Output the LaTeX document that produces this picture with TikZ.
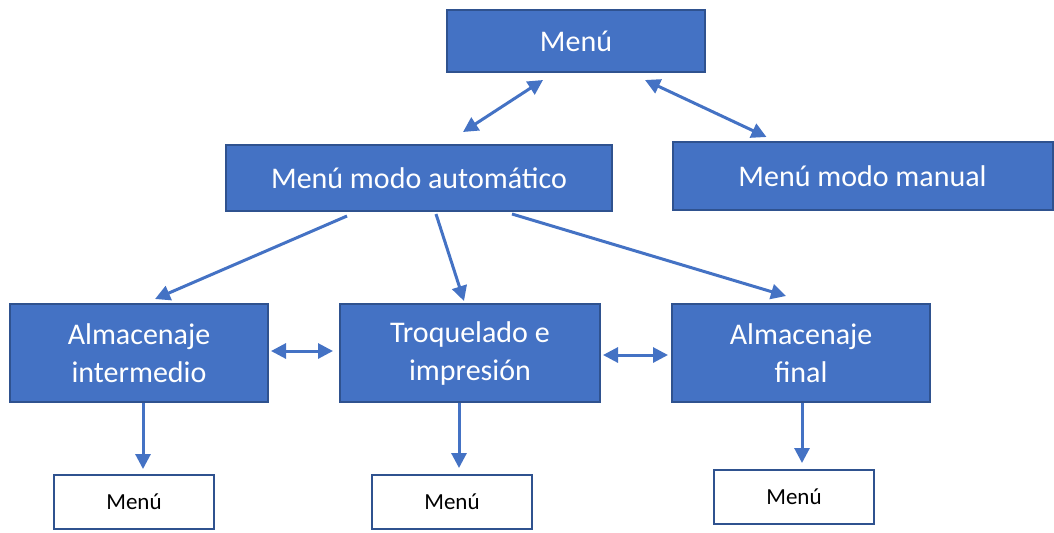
\documentclass[tikz,border=0pt]{standalone}
\usepackage{fontspec}
\setmainfont{Carlito}
\usepackage{xcolor}
\usepackage{tikz}
\usetikzlibrary{arrows.meta}

\definecolor{azul}{HTML}{4472C4}
\definecolor{azulborde}{HTML}{2F528F}

\begin{document}
\begin{tikzpicture}[x=0.5pt, y=-0.5pt,
    caja/.style={draw=azulborde, line width=1pt, fill=azul, text=white,
        align=center, inner sep=0pt, font=\fontsize{15}{19}\selectfont},
    cajab/.style={draw=azulborde, line width=1pt, fill=white, text=black,
        minimum width=80pt, minimum height=27pt, inner sep=0pt,
        font=\fontsize{11.5}{14}\selectfont},
    flecha/.style={draw=azul, line width=1.5pt, -{Triangle[length=7.5pt,width=7.5pt]}},
    dflecha/.style={draw=azul, line width=1.5pt,
        {Triangle[length=7.5pt,width=7.5pt]}-{Triangle[length=7.5pt,width=7.5pt]}}]
    \useasboundingbox (0,0) rectangle (1054,532);

    % Cajas principales
    \node[caja, minimum width=129pt, minimum height=31pt] (menu) at (576,41) {Menú};
    \node[caja, minimum width=193pt, minimum height=33pt] (auto) at (419,178) {Menú modo automático};
    \node[caja, minimum width=190pt, minimum height=34pt] (manual) at (862.5,176) {Menú modo manual};

    % Etapas del modo automático
    \node[caja, minimum width=129pt, minimum height=49pt] (inter) at (139,353) {Almacenaje\\intermedio};
    \node[caja, minimum width=130pt, minimum height=49pt] (troq) at (470,353) {Troquelado e\\impresión};
    \node[caja, minimum width=129pt, minimum height=49pt] (final) at (801,353) {Almacenaje\\final};

    % Menús de cada etapa
    \node[cajab] (m1) at (134,502) {Menú};
    \node[cajab] (m2) at (452,502) {Menú};
    \node[cajab] (m3) at (794,497) {Menú};

    % Flechas dobles
    \draw[dflecha] ([shift={(44,-12)}]auto.north) -- ([shift={(-33,7)}]menu.south);
    \draw[dflecha] ([shift={(69,7)}]menu.south) -- ([shift={(-96,-4)}]manual.north);
    \draw[dflecha] ([shift={(2,-2)}]inter.east) -- ([shift={(-6,-2)}]troq.west);
    \draw[dflecha] ([shift={(2,2)}]troq.east) -- ([shift={(-3,2)}]final.west);

    % Flechas hacia las etapas
    \draw[flecha] ([shift={(-72,4)}]auto.south) -- ([shift={(16,-4)}]inter.north);
    \draw[flecha] ([shift={(17,2)}]auto.south) -- ([shift={(-6,-2)}]troq.north);
    \draw[flecha] ([shift={(93,2)}]auto.south) -- ([shift={(-15,-7)}]final.north);

    % Flechas hacia los menús
    \draw[flecha] ([shift={(4,0)}]inter.south) -- ([shift={(9,-5)}]m1.north);
    \draw[flecha] ([shift={(-11,0)}]troq.south) -- ([shift={(7,-6)}]m2.north);
    \draw[flecha] ([shift={(1,0)}]final.south) -- ([shift={(8,-6)}]m3.north);
\end{tikzpicture}
\end{document}
